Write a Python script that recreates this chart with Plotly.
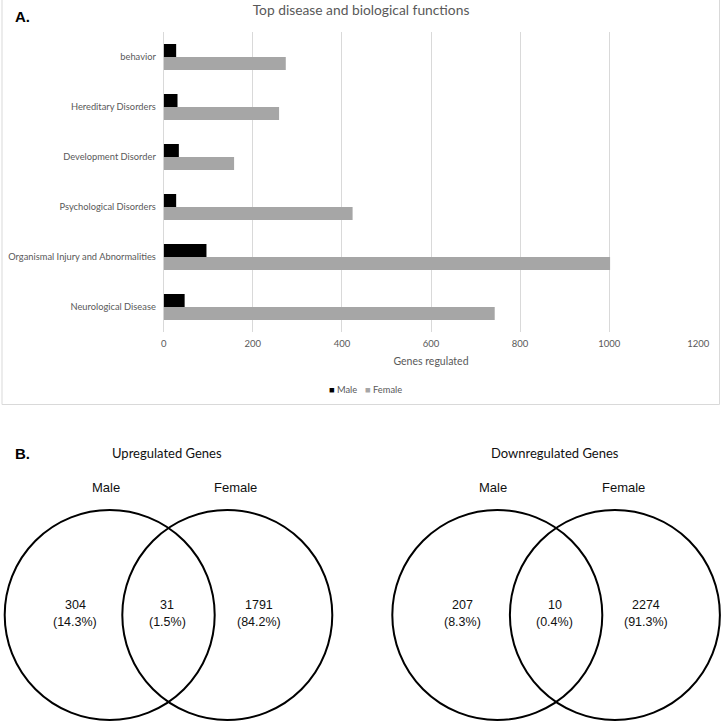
import plotly.graph_objects as go

# ---------------- data ----------------
categories = ["behavior", "Hereditary Disorders", "Development Disorder",
              "Psychological Disorders", "Organismal Injury and Abnormalities",
              "Neurological Disease"]
male_genes = [28, 31, 34, 28, 96, 47]
female_genes = [274, 259, 158, 424, 1002, 743]
x_ticks = [0, 200, 400, 600, 800, 1000, 1200]
series_names = ["Male", "Female"]
series_colors = ["#000000", "#a6a6a6"]

venn_sets = ["Male", "Female"]
up_counts = [304, 31, 1791]
up_pcts = ["14.3%", "1.5%", "84.2%"]
down_counts = [207, 10, 2274]
down_pcts = ["8.3%", "0.4%", "91.3%"]

# ---------------- layout helpers ----------------
W = H = 722
def px(x):
    return x / W
def py(y):
    return 1 - y / H

GRAY_TXT = "#595959"
CAL = "Lato, Carlito, Calibri, sans-serif"
ARIAL = "Liberation Sans, Arial, sans-serif"

fig = go.Figure()
for name, vals, col in zip(series_names, [male_genes, female_genes], series_colors):
    fig.add_trace(go.Bar(y=categories, x=vals, name=name, orientation="h",
                         marker=dict(color=col, line=dict(width=0)), showlegend=False))

shapes = []
annotations = []

# panel A frame
shapes.append(dict(type="rect", xref="paper", yref="paper",
                   x0=px(2), x1=px(719.5), y0=py(404.5), y1=py(-3),
                   line=dict(color="#d9d9d9", width=1), fillcolor="rgba(0,0,0,0)",
                   layer="below"))

# legend (Excel-style small squares)
for name, col, xl in zip(series_names, series_colors, [327, 363]):
    annotations.append(dict(text="<span style='color:%s'>■</span> %s" % (col, name),
                            xref="paper", yref="paper", x=px(xl), y=py(389),
                            xanchor="left", yanchor="middle", showarrow=False,
                            font=dict(family=CAL, size=9.3, color=GRAY_TXT)))

# panel labels
annotations.append(dict(text="<b>A.</b>", xref="paper", yref="paper", x=px(13), y=py(17),
                        xanchor="left", yanchor="middle", showarrow=False,
                        font=dict(family=ARIAL, size=15, color="#000")))
annotations.append(dict(text="<b>B.</b>", xref="paper", yref="paper", x=px(13), y=py(453),
                        xanchor="left", yanchor="middle", showarrow=False,
                        font=dict(family=ARIAL, size=15, color="#000")))

# ---------------- Venn diagrams ----------------
VENN_R = 105
VENN_CY = 615
HALF_SEP = 58.8
venns = [
    dict(title="Upregulated Genes", mid=168.5, counts=up_counts, pcts=up_pcts),
    dict(title="Downregulated Genes", mid=556.1, counts=down_counts, pcts=down_pcts),
]
for v in venns:
    m = v["mid"]
    centers = [m - HALF_SEP, m + HALF_SEP]
    for c in centers:
        shapes.append(dict(type="circle", xref="x2", yref="y2",
                           x0=c - VENN_R, x1=c + VENN_R,
                           y0=VENN_CY - VENN_R, y1=VENN_CY + VENN_R,
                           line=dict(color="#000", width=2)))
    annotations.append(dict(text=v["title"], xref="x2", yref="y2", x=m - 1.5, y=452.7,
                            showarrow=False, xanchor="center", yanchor="middle",
                            font=dict(family=CAL, size=13, color="#111")))
    for lab, dx in zip(venn_sets, [-63, 67]):
        annotations.append(dict(text=lab, xref="x2", yref="y2", x=m + dx, y=487.7,
                                showarrow=False, xanchor="center", yanchor="middle",
                                font=dict(family=ARIAL, size=13, color="#111")))
    for cnt, pct, dx in zip(v["counts"], v["pcts"], [-93.5, -1.5, 90]):
        annotations.append(dict(text=str(cnt), xref="x2", yref="y2", x=m + dx, y=605,
                                showarrow=False, xanchor="center", yanchor="middle",
                                font=dict(family=ARIAL, size=12.5, color="#111")))
        annotations.append(dict(text="(" + pct + ")", xref="x2", yref="y2", x=m + dx, y=622.3,
                                showarrow=False, xanchor="center", yanchor="middle",
                                font=dict(family=ARIAL, size=12.5, color="#111")))

fig.update_layout(
    template="none",
    width=W, height=H, autosize=False, margin=dict(l=0, r=0, t=0, b=0, pad=0),
    paper_bgcolor="white", plot_bgcolor="rgba(0,0,0,0)",
    barmode="group", bargap=0.48, bargroupgap=0, showlegend=False,
    title=dict(text="Top disease and biological functions", x=0.5, xanchor="center",
               y=py(10.5), yanchor="middle", yref="container", automargin=False,
               font=dict(family=CAL, size=13.8, color=GRAY_TXT)),
    xaxis=dict(domain=[px(163.7), px(698.3)], range=[0, 1200], tickvals=x_ticks,
               automargin=False,
               showgrid=True, gridcolor="#d9d9d9", gridwidth=1,
               zeroline=True, zerolinecolor="#d9d9d9", zerolinewidth=1,
               showline=False, ticks="outside", ticklen=3, tickcolor="rgba(0,0,0,0)",
               fixedrange=True,
               tickfont=dict(family=CAL, size=9.5, color=GRAY_TXT),
               title=dict(text="Genes regulated", standoff=9,
                          font=dict(family=CAL, size=10.5, color=GRAY_TXT)),
               anchor="y"),
    yaxis=dict(domain=[py(332), py(32)], autorange="reversed", categoryorder="array",
               categoryarray=categories, showgrid=False, zeroline=False, showline=False,
               automargin=False,
               ticks="outside", ticklen=5, tickcolor="rgba(0,0,0,0)", fixedrange=True,
               tickfont=dict(family=CAL, size=9.3, color=GRAY_TXT), anchor="x"),
    xaxis2=dict(domain=[0, 1], range=[0, W], visible=False, anchor="y2", fixedrange=True,
                automargin=False),
    yaxis2=dict(domain=[0, 1], range=[H, 0], visible=False, anchor="x2", fixedrange=True,
                automargin=False),
    shapes=shapes, annotations=annotations,
)

fig.write_html("out.html",
               config={"displayModeBar": False, "responsive": False},
               post_script="document.body.style.margin='0';document.body.style.overflow='hidden';")
